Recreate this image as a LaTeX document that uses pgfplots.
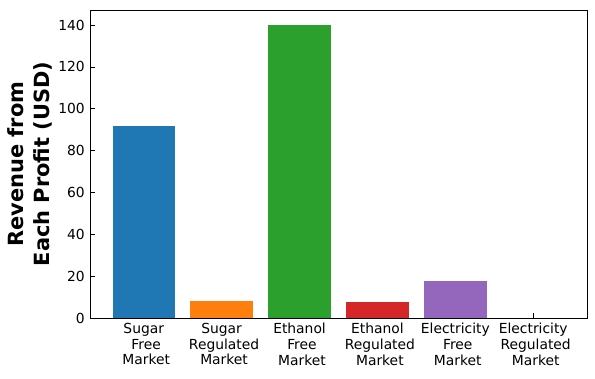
\documentclass[border=0pt]{standalone}
\usepackage{fontspec}
\setmainfont{DejaVu Sans}
\usepackage{pgfplots}
\pgfplotsset{compat=1.18}
\definecolor{c0}{HTML}{1F77B4}
\definecolor{c1}{HTML}{FF7F0E}
\definecolor{c2}{HTML}{2CA02C}
\definecolor{c3}{HTML}{D62728}
\definecolor{c4}{HTML}{9467BD}
\definecolor{c5}{HTML}{8C564B}
\begin{document}
\begin{tikzpicture}
\begin{axis}[
  name=ax,
  scale only axis,
  width=497bp, height=308bp,
  xmin=-0.69, xmax=5.69,
  ymin=0, ymax=147.2,
  ybar, bar width=0.8,
  xtick={0,1,2,3,4,5},
  xticklabels={
    {Sugar\\\hspace*{0.35em}Free\\\hspace*{0.35em}Market},
    {Sugar\\\hspace*{0.35em}Regulated\\\hspace*{0.35em}Market},
    {Ethanol\\\hspace*{0.35em}Free\\\hspace*{0.35em}Market},
    {Ethanol\\\hspace*{0.35em}Regulated\\\hspace*{0.35em}Market},
    {Electricity\\\hspace*{0.35em}Free\\\hspace*{0.35em}Market},
    {Electricity\\\hspace*{0.35em}Regulated\\\hspace*{0.35em}Market}},
  ytick={0,20,40,60,80,100,120,140},
  tick pos=left,
  tick align=inside,
  major tick length=5bp,
  tick style={black, line width=0.8bp},
  axis line style={line width=0.8bp},
  /pgf/number format/assume math mode=true,
  xticklabel style={font=\fontsize{13.9}{15.7}\selectfont, align=center, inner sep=0pt, yshift=-5bp},
  yticklabel style={font=\fontsize{13.9}{15.7}\selectfont, inner sep=0pt, xshift=-5bp},
  ylabel={Revenue from\\Each Profit (USD)},
  every axis y label/.style={at={(axis description cs:-0.0765,0.5)}, rotate=90, anchor=south, inner sep=0pt, align=center, font=\fontsize{21}{25.5}\selectfont\bfseries},
]
\addplot[fill=c0, draw=none, bar shift=0pt] coordinates {(0,91.6)};
\addplot[fill=c1, draw=none, bar shift=0pt] coordinates {(1,8.2)};
\addplot[fill=c2, draw=none, bar shift=0pt] coordinates {(2,140.2)};
\addplot[fill=c3, draw=none, bar shift=0pt] coordinates {(3,7.7)};
\addplot[fill=c4, draw=none, bar shift=0pt] coordinates {(4,17.8)};
\addplot[fill=c5, draw=none, bar shift=0pt] coordinates {(5,0)};
\end{axis}
\pgfresetboundingbox
\useasboundingbox ([shift={(-90bp,-61bp)}]ax.south west) rectangle ([shift={(8bp,10bp)}]ax.north east);
\end{tikzpicture}
\end{document}
